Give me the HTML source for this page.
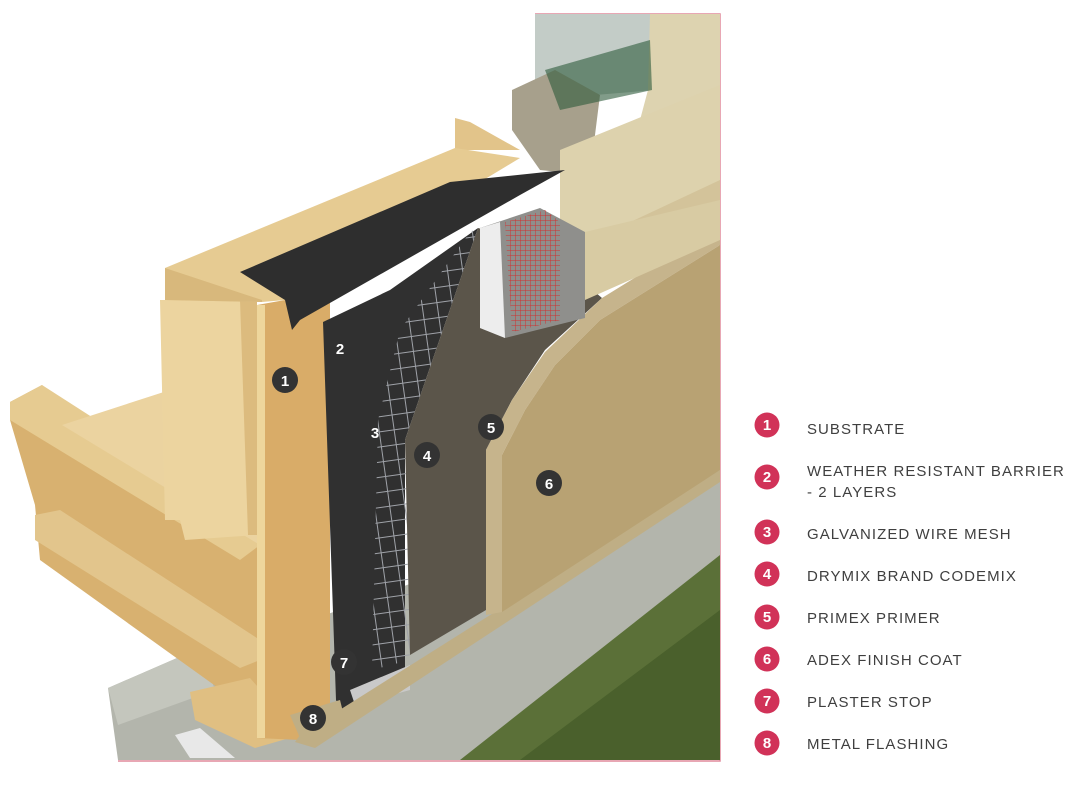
<!DOCTYPE html>
<html><head><meta charset="utf-8"><style>
html,body{margin:0;padding:0;background:#fff;width:1081px;height:800px;overflow:hidden}
svg{display:block}
.lg{font-family:"Liberation Sans",sans-serif;font-size:15px;fill:#3f3f3f;letter-spacing:1.05px}
.cn{font-family:"Liberation Sans",sans-serif;font-size:15px;font-weight:bold;fill:#fff;text-anchor:middle}
</style></head><body>
<svg width="1081" height="800" viewBox="0 0 1081 800" xmlns="http://www.w3.org/2000/svg">
<defs>
<pattern id="mesh" width="15" height="15" patternUnits="userSpaceOnUse" patternTransform="rotate(-8)">
<path d="M0 0H15M0 0V15" stroke="#9fa2a8" stroke-width="2" fill="none"/>
</pattern>
<pattern id="red" width="5" height="5" patternUnits="userSpaceOnUse">
<path d="M0 0H5M0 0V5" stroke="#d23030" stroke-width="1" fill="none"/>
</pattern>
<clipPath id="mc"><polygon points="372,670 378,420 400,330 470,232 478,228 405,440 410,660"/></clipPath>
</defs>
<path d="M535 14H720V761H118" stroke="#e08a9c" stroke-width="1.5" fill="none"/>
<!-- concrete -->
<polygon points="108,688 200,648 230,650 720,470 720,760 118,760" fill="#b3b5ac"/>
<polygon points="108,688 200,648 215,690 118,725" fill="#c4c6bd"/>
<polygon points="175,735 200,728 235,758 190,758" fill="#e8e8e8"/>
<!-- grass -->
<polygon points="460,760 720,555 720,760" fill="#5b7038"/>
<polygon points="520,760 720,610 720,760" fill="#4a602c"/>
<!-- window -->
<polygon points="535,14 655,14 655,90 535,100" fill="#c3ccc7"/>
<polygon points="650,14 720,14 720,140 640,120 648,90" fill="#ddd3b0"/>
<polygon points="512,90 555,70 600,95 590,175 540,170 512,130" fill="#a7a08c"/>
<polygon points="545,70 650,40 652,90 560,110" fill="#2d5a3a" opacity="0.6"/>
<!-- sill -->
<polygon points="560,150 720,85 720,235 580,300 560,260" fill="#ddd2ad"/>
<polygon points="560,255 720,180 720,235 575,305" fill="#d3c39a"/>
<polygon points="455,118 470,122 520,150 455,150" fill="#e2c48a"/>
<!-- floor joists -->
<polygon points="10,402 42,385 70,420 260,540 260,705 235,700 40,560 35,505 10,420" fill="#d8b170"/>
<polygon points="10,402 42,385 260,525 260,545 240,560 10,420" fill="#e6cb91"/>
<polygon points="62,425 170,390 260,440 260,545" fill="#ebd3a0"/>
<polygon points="35,515 60,510 260,640 260,660 240,668 35,540" fill="#e2c58c"/>
<!-- stud -->
<polygon points="160,300 257,300 257,535 185,540 180,520 165,520" fill="#ecd49f"/>
<polygon points="240,300 257,300 257,535 248,535" fill="#dcbb7e"/>
<!-- top plate -->
<polygon points="165,268 455,148 520,158 285,300 262,302 165,300" fill="#e6cb92"/>
<polygon points="165,268 262,300 262,302 165,300" fill="#d8b87c"/>
<!-- bottom plate -->
<polygon points="190,692 250,678 300,735 255,748 195,720" fill="#e0bf82"/>
<!-- sheathing -->
<polygon points="257,305 330,292 330,705 300,740 257,738" fill="#d9ac68"/>
<rect x="257" y="305" width="8" height="433" fill="#eed69c"/>
<!-- top flashing -->
<polygon points="240,272 450,182 565,170 520,195 300,320 292,330 285,300" fill="#2e2e2e"/>
<!-- WRB -->
<polygon points="323,322 390,290 478,228 405,440 405,670 340,710 336,700" fill="#303030"/>
<rect x="360" y="220" width="130" height="460" fill="url(#mesh)" clip-path="url(#mc)"/>
<polygon points="350,690 410,665 410,690 355,705" fill="#c9c9c9"/>
<!-- flashing base -->
<polygon points="300,735 720,470 720,482 315,748 295,742" fill="#bfae85"/>
<polygon points="290,715 340,700 345,720 300,738" fill="#bfae85"/>
<!-- codemix -->
<polygon points="405,440 478,228 505,235 560,262 602,298 545,350 512,400 486,450 486,610 410,655" fill="#5b554a"/>
<!-- primer -->
<polygon points="486,450 512,400 545,352 602,298 720,225 720,245 600,320 555,365 525,410 502,455 502,612 486,615" fill="#c6b48c"/>
<!-- finish -->
<polygon points="502,455 525,410 555,365 600,320 720,245 720,470 502,612" fill="#b8a273"/>
<!-- foam trim -->
<polygon points="480,228 540,208 585,232 585,318 505,338 480,328" fill="#8f8f8c"/>
<polygon points="480,228 500,222 505,338 480,328" fill="#ededed"/>
<polygon points="505,222 545,210 560,222 560,320 512,332" fill="url(#red)"/>
<polygon points="585,232 720,200 720,240 585,300" fill="#d8cba3"/>
<!-- callouts -->
<circle cx="285" cy="380" r="13" fill="#333"/><text class="cn" x="285" y="386">1</text>
<text class="cn" x="340" y="354">2</text>
<text class="cn" x="375" y="438">3</text>
<circle cx="427" cy="455" r="13" fill="#333"/><text class="cn" x="427" y="461">4</text>
<circle cx="491" cy="427" r="13" fill="#333"/><text class="cn" x="491" y="433">5</text>
<circle cx="549" cy="483" r="13" fill="#333"/><text class="cn" x="549" y="489">6</text>
<circle cx="344" cy="662" r="13" fill="#333"/><text class="cn" x="344" y="668">7</text>
<circle cx="313" cy="718" r="13" fill="#333"/><text class="cn" x="313" y="724">8</text>
<!-- legend -->
<g fill="#d13258">
<circle cx="767" cy="425" r="12.5"/><circle cx="767" cy="477" r="12.5"/><circle cx="767" cy="532" r="12.5"/><circle cx="767" cy="574" r="12.5"/>
<circle cx="767" cy="617" r="12.5"/><circle cx="767" cy="659" r="12.5"/><circle cx="767" cy="701" r="12.5"/><circle cx="767" cy="743" r="12.5"/>
</g>
<text class="cn" x="767" y="430">1</text><text class="cn" x="767" y="482">2</text><text class="cn" x="767" y="537">3</text><text class="cn" x="767" y="579">4</text>
<text class="cn" x="767" y="622">5</text><text class="cn" x="767" y="664">6</text><text class="cn" x="767" y="706">7</text><text class="cn" x="767" y="748">8</text>
<text class="lg" x="807" y="434">SUBSTRATE</text>
<text class="lg" x="807" y="476">WEATHER RESISTANT BARRIER</text>
<text class="lg" x="807" y="497">- 2 LAYERS</text>
<text class="lg" x="807" y="539">GALVANIZED WIRE MESH</text>
<text class="lg" x="807" y="581">DRYMIX BRAND CODEMIX</text>
<text class="lg" x="807" y="623">PRIMEX PRIMER</text>
<text class="lg" x="807" y="665">ADEX FINISH COAT</text>
<text class="lg" x="807" y="707">PLASTER STOP</text>
<text class="lg" x="807" y="749">METAL FLASHING</text>
</svg>
</body></html>
